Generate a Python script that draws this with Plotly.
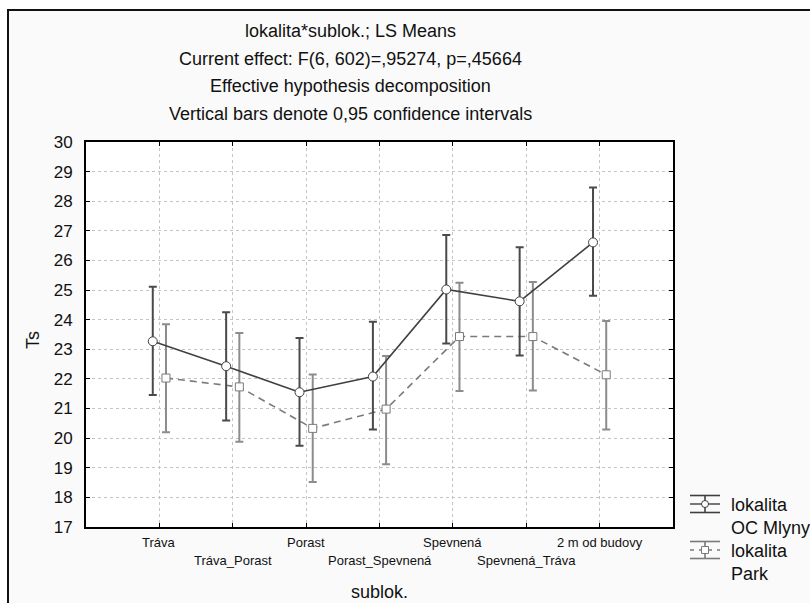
import plotly.graph_objects as go

categories = ["Tráva", "Tráva_Porast", "Porast", "Porast_Spevnená",
              "Spevnená", "Spevnená_Tráva", "2 m od budovy"]
oc_mean = [23.27, 22.43, 21.55, 22.08, 25.02, 24.62, 26.61]
oc_upper = [25.11, 24.25, 23.38, 23.93, 26.86, 26.45, 28.46]
oc_lower = [21.46, 20.60, 19.74, 20.29, 23.20, 22.79, 24.81]
park_mean = [22.03, 21.73, 20.33, 20.98, 23.43, 23.43, 22.14]
park_upper = [23.85, 23.55, 22.15, 22.77, 25.25, 25.27, 23.96]
park_lower = [20.20, 19.88, 18.52, 19.12, 21.59, 21.61, 20.29]
y_ticks = list(range(17, 31))
title_lines = ["lokalita*sublok.; LS Means",
               "Current effect: F(6, 602)=,95274, p=,45664",
               "Effective hypothesis decomposition",
               "Vertical bars denote 0,95 confidence intervals"]
legend_names = [["lokalita", "OC Mlyny"], ["lokalita", "Park"]]

W, H = 810, 603
L, R, T, B = 86, 673, 142, 527
FONT = "Liberation Sans, Arial, sans-serif"


def px(xp):
    return (xp - L) / (R - L)


def py(yp):
    return (B - yp) / (B - T)


pos = list(range(1, len(categories) + 1))
off = 0.09
OC_C, OC_E = "#404040", "#4a4a4a"
PK_C, PK_E = "#7a7a7a", "#8c8c8c"

fig = go.Figure()
fig.add_trace(go.Scatter(
    x=[p + off for p in pos], y=park_mean, mode="lines+markers",
    line=dict(color=PK_C, width=1.6, dash="7px,5px"),
    marker=dict(symbol="square", size=8, color="white", line=dict(color=PK_C, width=1)),
    error_y=dict(type="data", symmetric=False,
                 array=[u - m for u, m in zip(park_upper, park_mean)],
                 arrayminus=[m - l for m, l in zip(park_mean, park_lower)],
                 color=PK_E, thickness=2, width=4),
    showlegend=False))
fig.add_trace(go.Scatter(
    x=[p - off for p in pos], y=oc_mean, mode="lines+markers",
    line=dict(color=OC_C, width=1.6),
    marker=dict(symbol="circle", size=9, color="white", line=dict(color=OC_C, width=1)),
    error_y=dict(type="data", symmetric=False,
                 array=[u - m for u, m in zip(oc_upper, oc_mean)],
                 arrayminus=[m - l for m, l in zip(oc_mean, oc_lower)],
                 color=OC_E, thickness=2, width=4),
    showlegend=False))

shapes = []
# white outside the outer frame, then frame line
shapes.append(dict(type="rect", xref="paper", yref="paper", x0=px(-5), x1=px(W + 5),
                   y0=py(9), y1=py(-5), fillcolor="white", line=dict(width=0), layer="below"))
shapes.append(dict(type="rect", xref="paper", yref="paper", x0=px(-5), x1=px(7),
                   y0=py(H + 5), y1=py(-5), fillcolor="white", line=dict(width=0), layer="below"))
shapes.append(dict(type="rect", xref="paper", yref="paper", x0=px(8), x1=px(W + 10),
                   y0=py(H + 10), y1=py(10), fillcolor="rgba(0,0,0,0)",
                   line=dict(color="#111111", width=2), layer="above"))

annotations = []
for i, t in enumerate(title_lines):
    annotations.append(dict(text=t, xref="paper", yref="paper", x=px(350), y=py(31 + i * 27.6),
                            xanchor="center", yanchor="middle", showarrow=False,
                            font=dict(family=FONT, size=18, color="#111111")))
for i, c in enumerate(categories):
    annotations.append(dict(text=c, xref="x", yref="paper", x=pos[i],
                            y=py(542 if i % 2 == 0 else 560),
                            xanchor="center", yanchor="middle", showarrow=False,
                            font=dict(family=FONT, size=13, color="#111111")))
annotations.append(dict(text="sublok.", xref="paper", yref="paper", x=px(379), y=py(592),
                        xanchor="center", yanchor="middle", showarrow=False,
                        font=dict(family=FONT, size=18, color="#111111")))
annotations.append(dict(text="Ts", xref="paper", yref="paper", x=px(33), y=py(340),
                        xanchor="center", yanchor="middle", showarrow=False, textangle=-90,
                        font=dict(family=FONT, size=18, color="#111111")))

# legend (custom symbols)
sx0, sx1, sxc = 690, 720, 705
leg = [(504, OC_C, "circle", 505), (550, PK_C, "square", 551)]
for k, (cy, col, sym, ty) in enumerate(leg):
    for dy in (-8.5, 8.5):
        shapes.append(dict(type="line", xref="paper", yref="paper", x0=px(sx0), x1=px(sx1),
                           y0=py(cy + dy), y1=py(cy + dy), line=dict(color=col, width=1.6)))
    shapes.append(dict(type="line", xref="paper", yref="paper", x0=px(sxc), x1=px(sxc),
                       y0=py(cy - 8.5), y1=py(cy + 8.5), line=dict(color=col, width=1.6)))
    shapes.append(dict(type="line", xref="paper", yref="paper", x0=px(sx0), x1=px(sx1),
                       y0=py(cy), y1=py(cy),
                       line=dict(color=col, width=1.4, dash="solid" if k == 0 else "4px,5px")))
    if sym == "circle":
        shapes.append(dict(type="circle", xref="paper", yref="paper", x0=px(sxc - 3.5), x1=px(sxc + 3.5),
                           y0=py(cy + 3.5), y1=py(cy - 3.5), fillcolor="white", line=dict(color=col, width=1)))
    else:
        shapes.append(dict(type="rect", xref="paper", yref="paper", x0=px(sxc - 3.5), x1=px(sxc + 3.5),
                           y0=py(cy + 3.5), y1=py(cy - 3.5), fillcolor="white", line=dict(color=col, width=1)))
    for j, line_txt in enumerate(legend_names[k]):
        annotations.append(dict(text=line_txt, xref="paper", yref="paper", x=px(729),
                                y=py(ty + j * 23), xanchor="left", yanchor="middle",
                                showarrow=False, font=dict(family=FONT, size=18, color="#111111")))

fig.update_layout(
    width=W, height=H,
    margin=dict(l=L, r=W - R, t=T, b=H - B, pad=0),
    paper_bgcolor="#fafafa", plot_bgcolor="white",
    font=dict(family=FONT, size=17, color="#111111"),
    shapes=shapes, annotations=annotations, showlegend=False,
)
fig.update_xaxes(range=[0, len(categories) + 1], tickvals=pos, showticklabels=False,
                 showgrid=True, gridcolor="#c4c4c4", griddash="dot", gridwidth=1,
                 showline=True, linecolor="black", linewidth=2, mirror="ticks",
                 ticks="inside", ticklen=4, tickcolor="black", zeroline=False)
fig.update_yaxes(range=[17, 30], tickvals=y_ticks, ticktext=[str(v) for v in y_ticks],
                 showgrid=True, gridcolor="#c4c4c4", griddash="dot", gridwidth=1,
                 showline=True, linecolor="black", linewidth=2, mirror="ticks",
                 ticks="inside", ticklen=4, tickcolor="black", zeroline=False,
                 ticklabelstandoff=8, tickfont=dict(family=FONT, size=17, color="#111111"))

fig.write_html("out.html", config={"displayModeBar": False},
               post_script="document.body.style.margin='0px';document.body.style.overflow='hidden';")
